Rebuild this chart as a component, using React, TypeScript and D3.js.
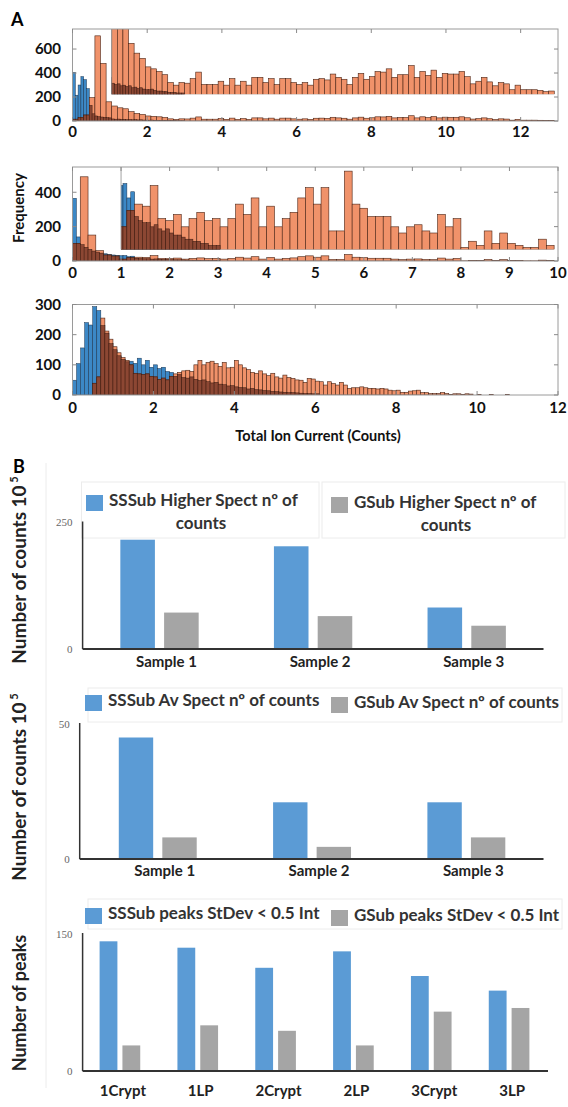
import React from "react";
import * as d3 from "d3";

// ---------- Panel A : Total Ion Current histograms ----------
// orange = GSub, blue = SSSub (counts per bin)
const topOrangeBin = 0.15;
const topOrange = [15, 30, 50, 195, 710, 480, 160, 125, 110, 102, 78, 63, 55, 42, 39, 35, 30, 18, 14, 18, 17, 24, 34, 15, 15, 15, 20, 14, 24, 14, 20, 14, 26, 26, 18, 24, 15, 24, 24, 18, 15, 18, 14, 23, 24, 22, 31, 26, 23, 15, 26, 32, 23, 27, 35, 34, 39, 26, 30, 30, 44, 26, 35, 29, 37, 26, 32, 31, 31, 35, 27, 16, 20, 26, 19, 13, 18, 16, 7, 14, 7, 7, 7, 6, 4, 5];
const topBlueBin = 0.075;
const topBlue = [405, 215, 300, 370, 345, 270, 130, 60, 42, 36, 33, 30, 28, 26, 17, 15, 16, 13, 14, 12, 13, 10, 11, 9, 10, 8, 7, 7, 8, 6, 5, 5, 4, 4, 3, 3, 3, 2, 2, 2];
const topXTicks = [0, 2, 4, 6, 8, 10, 12];
const topYTicks = [0, 200, 400, 600];

const midOrangeBin = 0.16;
const midOrange = [103, 490, 151, 60, 35, 29, 11, 19, 22, 21, 31, 15, 14, 17, 11, 15, 18, 14, 15, 11, 15, 22, 17, 25, 11, 21, 11, 15, 18, 25, 30, 22, 30, 9, 9, 38, 22, 20, 16, 16, 16, 11, 8, 11, 12, 9, 8, 17, 11, 15, 1, 4, 2, 9, 3, 8, 3, 2, 1, 1, 5, 2];
const midBlueBin = 0.08;
const midBlue = [365, 140, 95, 80, 68, 58, 52, 46, 42, 38, 35, 33, 31, 32, 25, 28, 16, 14, 13, 13, 11, 12, 10, 9, 10, 8, 7, 7, 6, 5, 5, 4, 4, 3, 3, 2, 2, 2];
const midXTicks = [0, 1, 2, 3, 4, 5, 6, 7, 8, 9, 10];
const midYTicks = [0, 200, 400];

const botOrangeBin = 0.1;
const botOrange = [0, 0, 0, 0, 0, 39, 60, 255, 212, 185, 160, 140, 124, 115, 100, 72, 70, 68, 70, 62, 60, 52, 56, 50, 62, 70, 75, 80, 82, 78, 100, 115, 100, 108, 112, 104, 95, 108, 90, 92, 115, 100, 90, 84, 75, 72, 80, 70, 64, 72, 60, 56, 66, 58, 55, 50, 49, 42, 55, 53, 46, 44, 33, 44, 38, 33, 42, 33, 22, 24, 24, 27, 24, 22, 22, 20, 22, 20, 16, 14, 16, 9, 9, 13, 14, 16, 8, 8, 5, 5, 5, 8, 5, 2, 4, 4, 2, 4, 3, 0, 2, 0, 0, 2, 0, 0, 0, 1, 0];
const botBlueBin = 0.1;
const botBlue = [49, 104, 156, 240, 232, 293, 280, 230, 205, 170, 150, 130, 118, 110, 112, 105, 122, 100, 115, 92, 100, 88, 92, 78, 75, 62, 68, 58, 56, 60, 52, 48, 50, 44, 40, 42, 36, 34, 30, 31, 27, 25, 24, 20, 22, 18, 17, 15, 14, 12, 11, 10, 9, 8, 8, 7, 6, 5, 5, 4, 4];
const botXTicks = [0, 2, 4, 6, 8, 10, 12];
const botYTicks = [0, 100, 200, 300];

// ---------- Panel B : bar charts ----------
const samples = ["Sample 1", "Sample 2", "Sample 3"];
const higherSS = [216, 203, 82];
const higherG = [72, 65, 46];
const avSS = [45, 21, 21];
const avG = [8, 4.5, 8];
const peakCats = ["1Crypt", "1LP", "2Crypt", "2LP", "3Crypt", "3LP"];
const peaksSS = [142, 135, 113, 131, 104, 88];
const peaksG = [28, 50, 44, 28, 65, 69];

const BLUE = "#3c88c6";
const ORANGE = "#f0926a";
const DARK = "#8c4733";
const EXCEL_BLUE = "#5b9bd5";
const EXCEL_GREY = "#a5a5a5";
const FONT = "Lato, 'Open Sans', sans-serif";

type Scale = d3.ScaleLinear<number, number>;

const HistBars = ({ x, yS, orange, orangeBin, blue, blueBin }: {
  x: Scale; yS: Scale; orange: number[]; orangeBin: number; blue: number[]; blueBin: number;
}) => {
  const y0 = yS(0);
  const bw = x(blueBin) - x(0);
  const ow = x(orangeBin) - x(0);
  return (
    <g>
      {blue.map((v, i) => v > 0 && (
        <rect key={"b" + i} x={x(i * blueBin)} y={yS(v)} width={bw} height={y0 - yS(v)}
          fill={BLUE} stroke="#1b3550" strokeWidth={0.5} />
      ))}
      {orange.map((v, i) => v > 0 && (
        <rect key={"o" + i} x={x(i * orangeBin)} y={yS(v)} width={ow} height={y0 - yS(v)}
          fill={ORANGE} stroke="#4a2314" strokeWidth={0.6} />
      ))}
      {blue.map((v, i) => {
        // where both series overlap the bar looks dark brown
        const o = orange[Math.floor(((i + 0.5) * blueBin) / orangeBin)] ?? 0;
        const h = Math.min(v, o);
        if (h <= 0) return null;
        return <rect key={"d" + i} x={x(i * blueBin)} y={yS(h)} width={bw} height={y0 - yS(h)}
          fill={DARK} stroke="#3a1a10" strokeWidth={0.5} />;
      })}
    </g>
  );
};

type HistProps = {
  id: string; left: number; right: number; top: number; bottom: number;
  xMax: number; yMax: number; xTicks: number[]; yTicks: number[];
  orange: number[]; orangeBin: number; blue: number[]; blueBin: number;
  labelY: number;
  inset?: { from: number; bottom: number; yMax: number };
};

const Histogram = (p: HistProps) => {
  const x = d3.scaleLinear().domain([0, p.xMax]).range([p.left, p.right]);
  const y = d3.scaleLinear().domain([0, p.yMax]).range([p.bottom, p.top]);
  const series = { orange: p.orange, orangeBin: p.orangeBin, blue: p.blue, blueBin: p.blueBin };
  let insetNode = null;
  if (p.inset) {
    const yi = d3.scaleLinear().domain([0, p.inset.yMax]).range([p.inset.bottom, p.top]);
    const ix = x(p.inset.from);
    insetNode = (
      <g>
        <clipPath id={p.id + "-inset"}>
          <rect x={ix} y={p.top} width={p.right - ix} height={p.inset.bottom - p.top} />
        </clipPath>
        <g clipPath={`url(#${p.id}-inset)`}>
          <HistBars x={x} yS={yi} {...series} />
        </g>
        <line x1={ix} x2={ix} y1={p.top} y2={p.inset.bottom} stroke="#8a8a8a" strokeWidth={0.8} />
      </g>
    );
  }
  return (
    <g>
      <clipPath id={p.id + "-main"}>
        <rect x={p.left} y={p.top} width={p.right - p.left} height={p.bottom - p.top} />
      </clipPath>
      <g clipPath={`url(#${p.id}-main)`}>
        <HistBars x={x} yS={y} {...series} />
      </g>
      {insetNode}
      <rect x={p.left} y={p.top} width={p.right - p.left} height={p.bottom - p.top}
        fill="none" stroke="#9a9a9a" strokeWidth={1} />
      {p.xTicks.map((t) => (
        <g key={"x" + t}>
          <line x1={x(t)} x2={x(t)} y1={p.top} y2={p.top + 4} stroke="#8a8a8a" />
          <line x1={x(t)} x2={x(t)} y1={p.bottom} y2={p.bottom - 4} stroke="#8a8a8a" />
          <text x={x(t)} y={p.labelY} textAnchor="middle" fontSize={15} fontWeight="bold"
            fontFamily={FONT} fill="#111">{t}</text>
        </g>
      ))}
      {p.yTicks.map((t) => (
        <g key={"y" + t}>
          <line x1={p.left} x2={p.left + 4} y1={y(t)} y2={y(t)} stroke="#8a8a8a" />
          <line x1={p.right} x2={p.right - 4} y1={y(t)} y2={y(t)} stroke="#8a8a8a" />
          <text x={61} y={y(t)} dy="0.36em" textAnchor="end" fontSize={15} fontWeight="bold"
            fontFamily={FONT} fill="#111">{t}</text>
        </g>
      ))}
    </g>
  );
};

type BarProps = {
  cats: string[]; blue: number[]; grey: number[]; yMax: number;
  x0: number; x1: number; axisX: number; y0: number; yTop: number;
  pad: number; subPad: number; labelY: number; labelDx: number;
};

const BarChart = (p: BarProps) => {
  const x = d3.scaleBand<string>().domain(p.cats).range([p.x0, p.x1])
    .paddingInner(p.pad).paddingOuter(p.pad / 2);
  const sub = d3.scaleBand<string>().domain(["ss", "g"]).range([0, x.bandwidth()])
    .paddingInner(p.subPad);
  const y = d3.scaleLinear().domain([0, p.yMax]).range([p.y0, p.yTop]);
  return (
    <g>
      {p.cats.map((c, i) => (
        <g key={c}>
          <rect x={x(c)! + sub("ss")!} y={y(p.blue[i])} width={sub.bandwidth()}
            height={p.y0 - y(p.blue[i])} fill={EXCEL_BLUE} />
          <rect x={x(c)! + sub("g")!} y={y(p.grey[i])} width={sub.bandwidth()}
            height={p.y0 - y(p.grey[i])} fill={EXCEL_GREY} />
          <text x={x(c)! + x.bandwidth() / 2 + p.labelDx} y={p.labelY} textAnchor="middle"
            fontSize={15} fontWeight="bold" fontFamily={FONT} fill="#222">{c}</text>
        </g>
      ))}
      <line x1={p.axisX} x2={p.axisX} y1={p.yTop - 1} y2={p.y0} stroke="#333" strokeWidth={1.5} />
      <line x1={p.axisX} x2={p.x1} y1={p.y0} y2={p.y0} stroke="#333" strokeWidth={2} />
      {[0, p.yMax].map((t) => (
        <text key={t} x={p.axisX - 10} y={y(t)} dy="0.35em" textAnchor="end" fontSize={11}
          fontFamily="'Liberation Serif', serif" fill="#666">{t}</text>
      ))}
    </g>
  );
};

const Legend = ({ x, y, color, lines, cx }: {
  x: number; y: number; color: string; lines: string[]; cx?: number;
}) => (
  <g>
    <rect x={x} y={y} width={17} height={16} fill={color} />
    {lines.map((l, i) => (
      <text key={i} x={i === 0 ? x + 23 : cx} y={y + 11 + i * 23}
        textAnchor={i === 0 ? "start" : "middle"} fontSize={17} fontWeight="bold"
        fontFamily={FONT} fill="#333">{l}</text>
    ))}
  </g>
);

const YLabel = ({ x, y, text, sup, size = 18 }: {
  x: number; y: number; text: string; sup?: string; size?: number;
}) => (
  <text transform={`translate(${x},${y}) rotate(-90)`} textAnchor="middle" fontSize={size}
    fontWeight="bold" fontFamily={FONT} fill="#222">
    {text}
    {sup && <tspan dy={-8} fontSize={11}>{" " + sup}</tspan>}
  </text>
);

export default function App() {
  return (
    <div style={{ position: "absolute", left: 0, top: 0 }}>
      <svg width={568} height={1107} style={{ display: "block", background: "#fff" }}>
        <text x={11} y={26} fontSize={18} fontWeight="bold" fontFamily={FONT}>A</text>
        <Histogram id="top" left={72.5} right={558} top={29} bottom={121} xMax={13} yMax={767}
          xTicks={topXTicks} yTicks={topYTicks} orange={topOrange} orangeBin={topOrangeBin}
          blue={topBlue} blueBin={topBlueBin} labelY={137}
          inset={{ from: 1.05, bottom: 94.3, yMax: 100 }} />
        <Histogram id="mid" left={72.5} right={558} top={167} bottom={261} xMax={10} yMax={547}
          xTicks={midXTicks} yTicks={midYTicks} orange={midOrange} orangeBin={midOrangeBin}
          blue={midBlue} blueBin={midBlueBin} labelY={278}
          inset={{ from: 1.0, bottom: 249.5, yMax: 40 }} />
        <Histogram id="bot" left={72.5} right={558} top={304.5} bottom={395} xMax={12} yMax={300}
          xTicks={botXTicks} yTicks={botYTicks} orange={botOrange} orangeBin={botOrangeBin}
          blue={botBlue} blueBin={botBlueBin} labelY={413} />
        <text transform="translate(24,208) rotate(-90)" textAnchor="middle" fontSize={15}
          fontWeight="bold" fontFamily={FONT} fill="#111">Frequency</text>
        <text x={318} y={441} textAnchor="middle" fontSize={14.5} fontWeight="bold"
          fontFamily={FONT} fill="#111">Total Ion Current (Counts)</text>

        <text x={13} y={473} fontSize={18} fontWeight="bold" fontFamily={FONT}>B</text>
        {/* faint frames of the pasted Excel charts */}
        <g fill="none" stroke="#ececec" strokeWidth={1}>
          <rect x={81.5} y={482} width={237.5} height={56} />
          <rect x={322} y={482} width={243} height={56} />
          <rect x={88} y={688} width={474} height={34} />
          <rect x={88} y={899} width={474} height={30} />
          <line x1={46} x2={46} y1={463} y2={1088} />
        </g>

        <Legend x={86} y={495} color={EXCEL_BLUE} lines={["SSSub Higher Spect nº of", "counts"]} cx={201} />
        <Legend x={331} y={497} color={EXCEL_GREY} lines={["GSub Higher Spect nº of", "counts"]} cx={446} />
        <BarChart cats={samples} blue={higherSS} grey={higherG} yMax={250} x0={82.7} x1={543.5}
          axisX={82.6} y0={649} yTop={522.5} pad={0.49} subPad={0.21} labelY={667} labelDx={7} />
        <YLabel x={26} y={570} text="Number of counts 10" sup="5" size={19} />

        <Legend x={85} y={695} color={EXCEL_BLUE} lines={["SSSub Av Spect nº of counts"]} />
        <Legend x={331} y={697} color={EXCEL_GREY} lines={["GSub Av Spect nº of counts"]} />
        <BarChart cats={samples} blue={avSS} grey={avG} yMax={50} x0={80.6} x1={543.5}
          axisX={79.7} y0={859} yTop={724} pad={0.495} subPad={0.21} labelY={876} labelDx={7} />
        <YLabel x={26} y={787} text="Number of counts 10" sup="5" size={19} />

        <Legend x={85} y={908} color={EXCEL_BLUE} lines={["SSSub peaks StDev < 0.5 Int"]} />
        <Legend x={331} y={910} color={EXCEL_GREY} lines={["GSub peaks StDev < 0.5 Int"]} />
        <BarChart cats={peakCats} blue={peaksSS} grey={peaksG} yMax={150} x0={81} x1={548}
          axisX={82.6} y0={1071} yTop={934} pad={0.478} subPad={0.22} labelY={1096} labelDx={3} />
        <YLabel x={26} y={1003} text="Number of peaks" />
      </svg>
    </div>
  );
}
